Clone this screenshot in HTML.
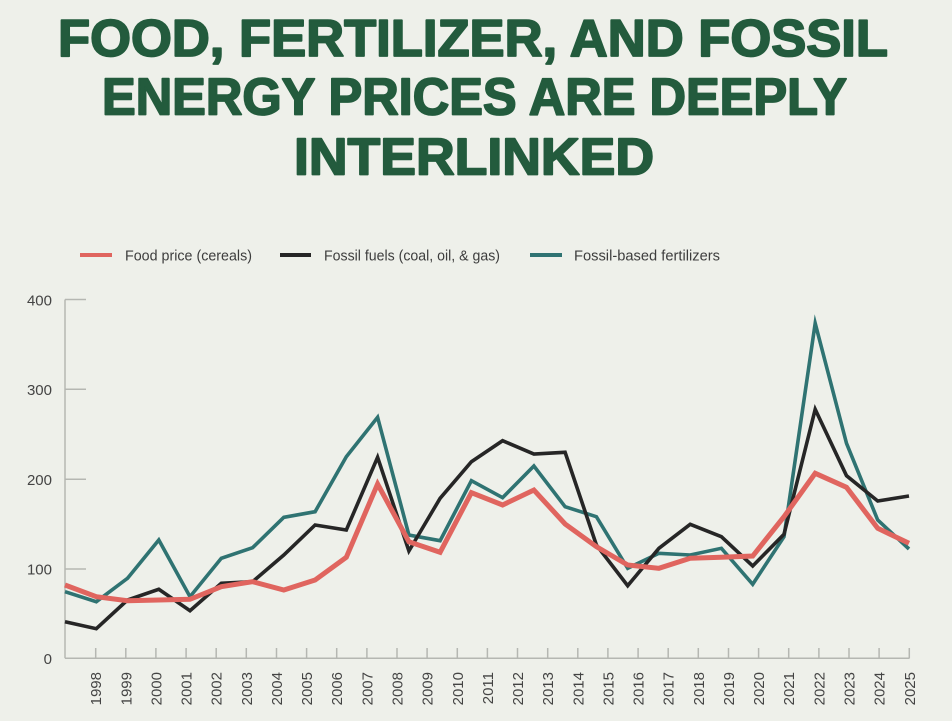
<!DOCTYPE html>
<html>
<head>
<meta charset="utf-8">
<style>
html,body{margin:0;padding:0;background:#eef0ea;}
svg{display:block;}
</style>
</head>
<body>
<svg width="952" height="721" viewBox="0 0 952 721" xmlns="http://www.w3.org/2000/svg">
<rect width="952" height="721" fill="#eef0ea"/>
<g font-family="Liberation Sans, sans-serif" font-weight="bold" fill="#235b3d" stroke="#235b3d" stroke-width="1.8" stroke-linejoin="round" font-size="51.5">
<text x="58" y="56" textLength="830" lengthAdjust="spacingAndGlyphs">FOOD, FERTILIZER, AND FOSSIL</text>
<text x="102" y="114.5" textLength="745" lengthAdjust="spacingAndGlyphs">ENERGY PRICES ARE DEEPLY</text>
<text x="294" y="174.5" textLength="360" lengthAdjust="spacingAndGlyphs">INTERLINKED</text>
</g>
<g font-family="Liberation Sans, sans-serif" font-size="15" fill="#3d3d3d">
<line x1="80" y1="255" x2="112" y2="255" stroke="#e0655f" stroke-width="4"/>
<text x="125" y="260.5" textLength="127" lengthAdjust="spacingAndGlyphs">Food price (cereals)</text>
<line x1="280" y1="255" x2="311" y2="255" stroke="#262626" stroke-width="4"/>
<text x="324" y="260.5" textLength="176" lengthAdjust="spacingAndGlyphs">Fossil fuels (coal, oil, &amp; gas)</text>
<line x1="530" y1="255" x2="562" y2="255" stroke="#2f7372" stroke-width="4"/>
<text x="574" y="260.5" textLength="146" lengthAdjust="spacingAndGlyphs">Fossil-based fertilizers</text>
</g>
<g stroke="#b5b7b2" stroke-width="1.5" fill="none">
<line x1="65" y1="299.5" x2="65" y2="658.3"/>
<line x1="65" y1="658.3" x2="909.5" y2="658.3"/>
<line x1="65" y1="299.5" x2="86" y2="299.5"/>
<line x1="65" y1="389.3" x2="86" y2="389.3"/>
<line x1="65" y1="479.3" x2="86" y2="479.3"/>
<line x1="65" y1="569" x2="86" y2="569"/>
<line x1="65" y1="658.3" x2="86" y2="658.3"/>
<path d="M95.7 648V658.3M125.8 648V658.3M155.9 648V658.3M186.1 648V658.3M216.2 648V658.3M246.3 648V658.3M276.5 648V658.3M306.6 648V658.3M336.7 648V658.3M366.9 648V658.3M397 648V658.3M427.1 648V658.3M457.3 648V658.3M487.4 648V658.3M517.5 648V658.3M547.7 648V658.3M577.8 648V658.3M607.9 648V658.3M638.1 648V658.3M668.2 648V658.3M698.3 648V658.3M728.5 648V658.3M758.6 648V658.3M788.7 648V658.3M818.9 648V658.3M849 648V658.3M879.1 648V658.3M909.3 648V658.3"/>
</g>
<g font-family="Liberation Sans, sans-serif" font-size="15" fill="#444" text-anchor="end">
<text x="52" y="305.5">400</text>
<text x="52" y="395">300</text>
<text x="52" y="485">200</text>
<text x="52" y="574.5">100</text>
<text x="52" y="664">0</text>
</g>
<g font-family="Liberation Sans, sans-serif" font-size="15" fill="#444" text-anchor="end">
<text transform="translate(101.2,672) rotate(-90)">1998</text>
<text transform="translate(131.3,672) rotate(-90)">1999</text>
<text transform="translate(161.4,672) rotate(-90)">2000</text>
<text transform="translate(191.6,672) rotate(-90)">2001</text>
<text transform="translate(221.7,672) rotate(-90)">2002</text>
<text transform="translate(251.8,672) rotate(-90)">2003</text>
<text transform="translate(282,672) rotate(-90)">2004</text>
<text transform="translate(312.1,672) rotate(-90)">2005</text>
<text transform="translate(342.2,672) rotate(-90)">2006</text>
<text transform="translate(372.4,672) rotate(-90)">2007</text>
<text transform="translate(402.5,672) rotate(-90)">2008</text>
<text transform="translate(432.6,672) rotate(-90)">2009</text>
<text transform="translate(462.8,672) rotate(-90)">2010</text>
<text transform="translate(492.9,672) rotate(-90)">2011</text>
<text transform="translate(523,672) rotate(-90)">2012</text>
<text transform="translate(553.2,672) rotate(-90)">2013</text>
<text transform="translate(583.3,672) rotate(-90)">2014</text>
<text transform="translate(613.4,672) rotate(-90)">2015</text>
<text transform="translate(643.6,672) rotate(-90)">2016</text>
<text transform="translate(673.7,672) rotate(-90)">2017</text>
<text transform="translate(703.8,672) rotate(-90)">2018</text>
<text transform="translate(734,672) rotate(-90)">2019</text>
<text transform="translate(764.1,672) rotate(-90)">2020</text>
<text transform="translate(794.2,672) rotate(-90)">2021</text>
<text transform="translate(824.4,672) rotate(-90)">2022</text>
<text transform="translate(854.5,672) rotate(-90)">2023</text>
<text transform="translate(884.6,672) rotate(-90)">2024</text>
<text transform="translate(914.8,672) rotate(-90)">2025</text>
</g>
<g fill="none" stroke-linejoin="miter" stroke-miterlimit="10">
<polyline stroke="#2f7372" stroke-width="3.6" points="65,591.7 96.3,601.7 127.5,578.3 158.8,540 190,596.7 221.3,558.3 252.6,547.7 283.8,517.3 315.1,511.7 346.3,456.7 377.6,417.3 408.9,535 440.1,540.7 471.4,480.7 502.6,497.7 533.9,466 565.1,506.7 596.4,516.7 627.7,568.3 658.9,553.3 690.2,555 721.4,548.3 752.7,584.3 784,536.7 815.2,323.3 846.5,443.3 877.7,520 909,549"/>
<polyline stroke="#262626" stroke-width="3.6" points="65,621.7 96.3,628.7 127.5,600 158.8,589.3 190,610.7 221.3,583.3 252.6,581.7 283.8,555 315.1,525 346.3,530 377.6,457.3 408.9,551 440.1,498.3 471.4,461.7 502.6,440.7 533.9,454 565.1,452.3 596.4,545 627.7,585.7 658.9,548.3 690.2,524.3 721.4,536.7 752.7,566 784,534.3 815.2,409.3 846.5,475.7 877.7,501 909,496"/>
<polyline stroke="#e0655f" stroke-width="5" points="65,585 96.3,596.7 127.5,600.7 158.8,600 190,599.3 221.3,586.7 252.6,581.7 283.8,590 315.1,580 346.3,557.3 377.6,484 408.9,541.7 440.1,552.3 471.4,492.7 502.6,505 533.9,490 565.1,524 596.4,546.7 627.7,565 658.9,568.3 690.2,558.3 721.4,557.3 752.7,556 784,516.7 815.2,473.3 846.5,487.3 877.7,528.3 909,543.3"/>
</g>
</svg>
</body>
</html>
